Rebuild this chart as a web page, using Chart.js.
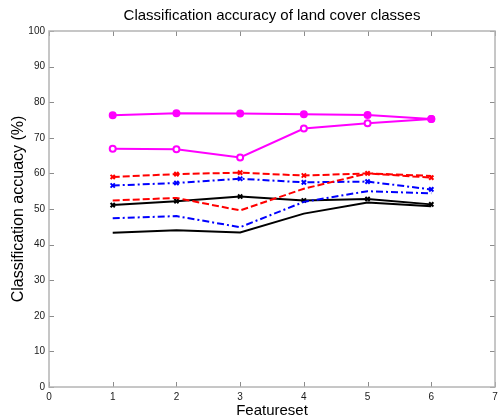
<!DOCTYPE html>
<html>
<head>
<meta charset="utf-8">
<script src="https://cdn.jsdelivr.net/npm/chart.js@4/dist/chart.umd.min.js"></script>
<style>
html,body{margin:0;padding:0;background:#fff;}
#wrap{width:501px;height:418px;position:relative;}
</style>
</head>
<body>
<div id="wrap"><canvas id="c" width="501" height="418"></canvas></div>
<script>
const featureset = [1, 2, 3, 4, 5, 6];
const magentaFilled = [76.3, 76.9, 76.8, 76.6, 76.4, 75.3];
const magentaOpen   = [66.9, 66.8, 64.5, 72.6, 74.1, 75.3];
const redCross      = [59.0, 59.8, 60.2, 59.4, 60.0, 58.8];
const redPlain      = [52.4, 53.1, 49.6, 55.7, 60.0, 59.3];
const blueCross     = [56.6, 57.3, 58.5, 57.5, 57.7, 55.5];
const bluePlain     = [47.4, 48.0, 44.9, 52.0, 55.0, 54.4];
const blackCross    = [51.1, 52.2, 53.5, 52.4, 52.8, 51.3];
const blackPlain    = [43.3, 44.0, 43.4, 48.7, 51.8, 50.8];
const xTicks = [0, 1, 2, 3, 4, 5, 6, 7];
const yTicks = [0, 10, 20, 30, 40, 50, 60, 70, 80, 90, 100];

const toPts = arr => featureset.map((x, i) => ({x: x, y: arr[i]}));

function ds(label, arr, color, dash, pointStyle, fill) {
  return {
    label: label,
    data: toPts(arr),
    borderColor: color,
    backgroundColor: fill,
    pointBackgroundColor: fill,
    pointBorderColor: color,
    borderWidth: 2,
    borderDash: dash,
    pointStyle: pointStyle || 'circle',
    pointRadius: pointStyle ? 3 : 0,
    pointBorderWidth: 2,
    tension: 0,
    fill: false
  };
}

const boxPlugin = {
  id: 'boxTicks',
  beforeDatasetsDraw(chart) {
    const {ctx, chartArea: a, scales: {x, y}} = chart;
    ctx.save();
    ctx.strokeStyle = '#8c8c8c';
    ctx.lineWidth = 1;
    const L = 5;
    ctx.beginPath();
    xTicks.forEach(v => {
      const px = Math.round(x.getPixelForValue(v)) + 0.5;
      ctx.moveTo(px, a.bottom); ctx.lineTo(px, a.bottom - L);
      ctx.moveTo(px, a.top); ctx.lineTo(px, a.top + L);
    });
    yTicks.forEach(v => {
      const py = Math.round(y.getPixelForValue(v)) + 0.5;
      ctx.moveTo(a.left, py); ctx.lineTo(a.left + L, py);
      ctx.moveTo(a.right, py); ctx.lineTo(a.right - L, py);
    });
    ctx.stroke();
    ctx.strokeStyle = '#b4b4b4';
    ctx.lineWidth = 1.5;
    ctx.strokeRect(a.left, a.top, a.right - a.left, a.bottom - a.top);
    ctx.restore();
  }
};

new Chart(document.getElementById('c'), {
  type: 'line',
  data: {
    datasets: [
      ds('Magenta filled', magentaFilled, '#ff00ff', [], 'circle', '#ff00ff'),
      ds('Magenta open', magentaOpen, '#ff00ff', [], 'circle', '#ffffff'),
      ds('Red cross', redCross, '#ff0000', [7, 3], 'crossRot', '#ff0000'),
      ds('Red', redPlain, '#ff0000', [7, 3], null, '#ff0000'),
      ds('Blue cross', blueCross, '#0000ff', [7, 3, 2, 3], 'crossRot', '#0000ff'),
      ds('Blue', bluePlain, '#0000ff', [7, 3, 2, 3], null, '#0000ff'),
      ds('Black cross', blackCross, '#000000', [], 'crossRot', '#000000'),
      ds('Black', blackPlain, '#000000', [], null, '#000000')
    ]
  },
  options: {
    responsive: false,
    animation: false,
    events: [],
    layout: {padding: 0},
    plugins: {
      legend: {display: false},
      tooltip: {enabled: false},
      title: {
        display: true,
        text: 'Classification accuracy of land cover classes',
        fullSize: false,
        color: '#000',
        font: {family: 'Liberation Sans, Arial, sans-serif', size: 15, weight: 'normal', lineHeight: 1.2},
        padding: {top: 7, bottom: 6}
      }
    },
    scales: {
      x: {
        type: 'linear',
        min: 0, max: 7,
        afterBuildTicks: s => { s.ticks = xTicks.map(v => ({value: v})); },
        afterFit: s => { s.height = 31; s.paddingLeft = 0; s.paddingRight = 0; },
        grid: {display: false, drawTicks: false},
        border: {display: false},
        ticks: {
          padding: 4,
          color: '#1a1a1a',
          maxRotation: 0,
          autoSkip: false,
          font: {family: 'Liberation Sans, Arial, sans-serif', size: 10}
        },
        title: {
          display: true,
          text: 'Featureset',
          color: '#000',
          font: {family: 'Liberation Sans, Arial, sans-serif', size: 15, lineHeight: 1.0},
          padding: {top: 0, bottom: 0}
        }
      },
      y: {
        type: 'linear',
        min: 0, max: 100,
        afterBuildTicks: s => { s.ticks = yTicks.map(v => ({value: v})); },
        afterFit: s => { s.width = 49; s.paddingTop = 0; s.paddingBottom = 0; },
        grid: {display: false, drawTicks: false},
        border: {display: false},
        ticks: {
          padding: 4,
          color: '#1a1a1a',
          autoSkip: false,
          font: {family: 'Liberation Sans, Arial, sans-serif', size: 10}
        },
        title: {
          display: true,
          text: 'Classification accuacy (%)',
          color: '#000',
          font: {family: 'Liberation Sans, Arial, sans-serif', size: 16, lineHeight: 1.2},
          padding: {top: 9, bottom: 0}
        }
      }
    }
  },
  plugins: [boxPlugin]
});
</script>
</body>
</html>
